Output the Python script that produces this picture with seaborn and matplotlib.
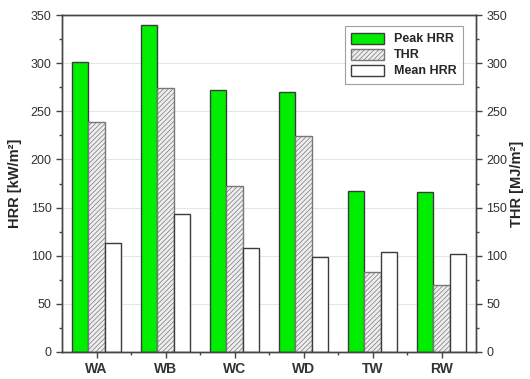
import matplotlib
matplotlib.use('Agg')
import matplotlib.pyplot as plt
import seaborn as sns
import pandas as pd
from matplotlib.ticker import MultipleLocator, FixedLocator

samples = ['WA', 'WB', 'WC', 'WD', 'TW', 'RW']
series = ['Peak HRR', 'THR', 'Mean HRR']
peak_hrr = [301, 340, 272, 270, 167, 166]
thr = [239, 274, 172, 224, 83, 70]
mean_hrr = [113, 143, 108, 99, 104, 102]

df = pd.DataFrame({
    'Sample': samples * 3,
    'Series': [s for s in series for _ in samples],
    'Value': peak_hrr + thr + mean_hrr,
})

sns.set_style('white')
plt.rcParams['font.family'] = ['Liberation Sans', 'DejaVu Sans']
plt.rcParams['hatch.linewidth'] = 0.5

fig = plt.figure(figsize=(5.3, 3.79), dpi=100)
ax = fig.add_axes([62 / 530, 1 - 352 / 379, 414 / 530, 337 / 379])

sns.barplot(data=df, x='Sample', y='Value', hue='Series', order=samples,
            hue_order=series, width=0.7, ax=ax, legend=False,
            palette=['#00ee00', '#eeeeee', '#ffffff'], saturation=1,
            edgecolor='#3c3c3c', linewidth=1.0)

for p in ax.containers[1].patches:
    p.set_hatch('///////')
    p.set_edgecolor('#777777')

ax.set_xlim(-0.5, 5.5)
ax.set_ylim(0, 350)
ax.yaxis.set_major_locator(MultipleLocator(50))
ax.yaxis.set_minor_locator(MultipleLocator(25))
ax.xaxis.set_minor_locator(FixedLocator([0.5, 1.5, 2.5, 3.5, 4.5]))
ax.set_axisbelow(True)
ax.grid(axis='y', which='major', color='#e6e6e6', linewidth=0.8)
ax.tick_params(axis='both', which='major', direction='out', length=4,
               width=1, color='#444444', labelsize=9, labelcolor='#333333',
               left=True, bottom=True)
ax.tick_params(axis='both', which='minor', direction='out', length=2,
               width=1, color='#444444', left=True, bottom=True)
for lbl in ax.get_xticklabels():
    lbl.set_fontweight('bold')
    lbl.set_fontsize(10)
ax.set_xlabel('')
ax.set_ylabel('HRR [kW/m²]', fontsize=10.5, fontweight='bold', labelpad=6)
for s in ax.spines.values():
    s.set_color('#444444')
    s.set_linewidth(1.0)

ax2 = ax.twinx()
ax2.set_ylim(0, 350)
ax2.yaxis.set_major_locator(MultipleLocator(50))
ax2.yaxis.set_minor_locator(MultipleLocator(25))
ax2.tick_params(axis='y', which='major', direction='out', length=4, width=1,
                color='#444444', labelsize=9, labelcolor='#333333', right=True)
ax2.tick_params(axis='y', which='minor', direction='out', length=2, width=1,
                color='#444444', right=True)
ax2.set_ylabel('THR [MJ/m²]', fontsize=10.5, fontweight='bold', labelpad=2)
for s in ax2.spines.values():
    s.set_color('#444444')
    s.set_linewidth(1.0)

leg = ax.legend(handles=list(ax.containers), labels=series, loc='upper right',
                bbox_to_anchor=(0.983, 0.985), fancybox=False, frameon=True,
                edgecolor='#888888', prop={'weight': 'bold', 'size': 9},
                handlelength=2.6, handleheight=1.0, borderpad=0.5,
                labelspacing=0.25)
leg.get_frame().set_linewidth(0.8)

fig.savefig('out.png', dpi=100)
